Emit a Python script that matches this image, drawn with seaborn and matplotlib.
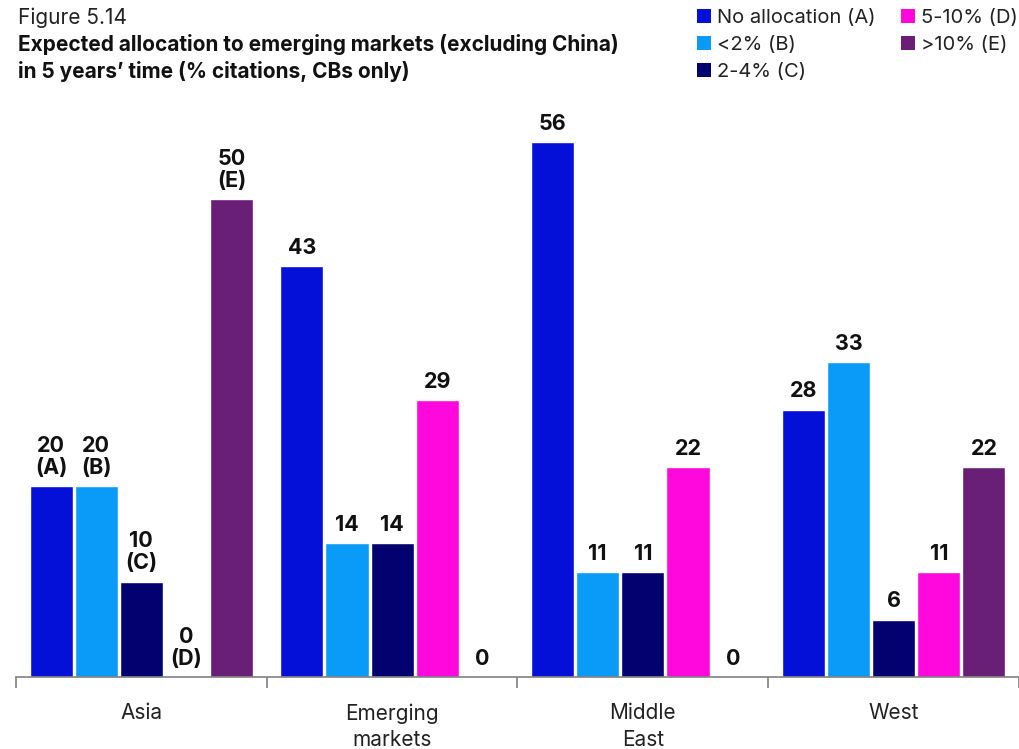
import matplotlib
matplotlib.use("Agg")
import matplotlib.pyplot as plt
import matplotlib.patches as mpatches
import seaborn as sns
import pandas as pd

# Data
regions = ["Asia", "Emerging\nmarkets", "Middle\nEast", "West"]
allocations = ["No allocation (A)", "<2% (B)", "2-4% (C)", "5-10% (D)", ">10% (E)"]
letters = ["A", "B", "C", "D", "E"]
no_allocation = [20, 43, 56, 28]
below_2 = [20, 14, 11, 33]
from_2_to_4 = [10, 14, 11, 6]
from_5_to_10 = [0, 29, 22, 11]
above_10 = [50, 0, 0, 22]
colors = ["#0410D8", "#0A9BF9", "#03016F", "#FF08DE", "#6A1F77"]

series = [no_allocation, below_2, from_2_to_4, from_5_to_10, above_10]
rows = []
for alloc, vals in zip(allocations, series):
    for reg, v in zip(regions, vals):
        rows.append({"region": reg, "allocation": alloc, "value": v})
df = pd.DataFrame(rows)

sns.set_theme(style="white")
plt.rcParams["font.family"] = ["Inter", "DejaVu Sans"]

fig = plt.figure(figsize=(10.2, 7.49), dpi=100)
ax = fig.add_axes([16 / 1020, 72 / 749, (1019 - 16) / 1020, 1 - 72 / 749 - 104 / 749])

sns.barplot(data=df, x="region", y="value", hue="allocation", order=regions,
            hue_order=allocations, palette=colors, width=0.9, gap=0.045,
            saturation=1, legend=False, ax=ax)

# Value labels above each bar; Asia also names the band
for ci, (container, letter) in enumerate(zip(ax.containers, letters)):
    labels = []
    for ri, v in enumerate(series[ci]):
        labels.append(f"{v}\n({letter})" if ri == 0 else f"{v}")
    ax.bar_label(container, labels=labels, padding=6, fontsize=15.5,
                 fontweight="bold", color="#111111", linespacing=1.12)

ax.set_xlim(-0.5, len(regions) - 0.5)
ax.set_ylim(0, 60)
ax.set_xlabel("")
ax.set_ylabel("")
ax.set_yticks([])
for side in ["top", "right", "left"]:
    ax.spines[side].set_visible(False)
ax.spines["bottom"].set_color("#808080")
ax.spines["bottom"].set_linewidth(1.2)

# Boundary ticks between categories, labels centred under each group
ax.set_xticks([i - 0.5 for i in range(len(regions) + 1)])
ax.set_xticklabels([])
ax.tick_params(axis="x", which="major", length=8, width=1.2, color="#808080",
               direction="out", bottom=True)
ax.set_xticks(range(len(regions)), minor=True)
ax.set_xticklabels(regions, minor=True, fontsize=15, color="#222222",
                   linespacing=1.4)
ax.tick_params(axis="x", which="minor", length=0, pad=19)

# Titles
fig.text(18 / 1020, 1 - 8 / 749, "Figure 5.14", fontsize=15, color="#222222",
         va="top", ha="left")
fig.text(18 / 1020, 1 - 34 / 749,
         "Expected allocation to emerging markets (excluding China)\nin 5 years\u2019 time (% citations, CBs only)",
         fontsize=15, fontweight="bold", color="#111111", va="top", ha="left",
         linespacing=1.38)

# Legend
handles = [mpatches.Patch(facecolor=c, edgecolor="none", label=l)
           for c, l in zip(colors, allocations)]
fig.legend(handles=handles, loc="upper left", bbox_to_anchor=(693 / 1020, 1 - 5 / 749),
           ncol=2, frameon=False, fontsize=14.5, handlelength=0.7, handleheight=0.7,
           handletextpad=0.3, columnspacing=1.25, labelspacing=0.45,
           borderaxespad=0, borderpad=0.2, labelcolor="#222222")

fig.savefig("out.png", dpi=100)
